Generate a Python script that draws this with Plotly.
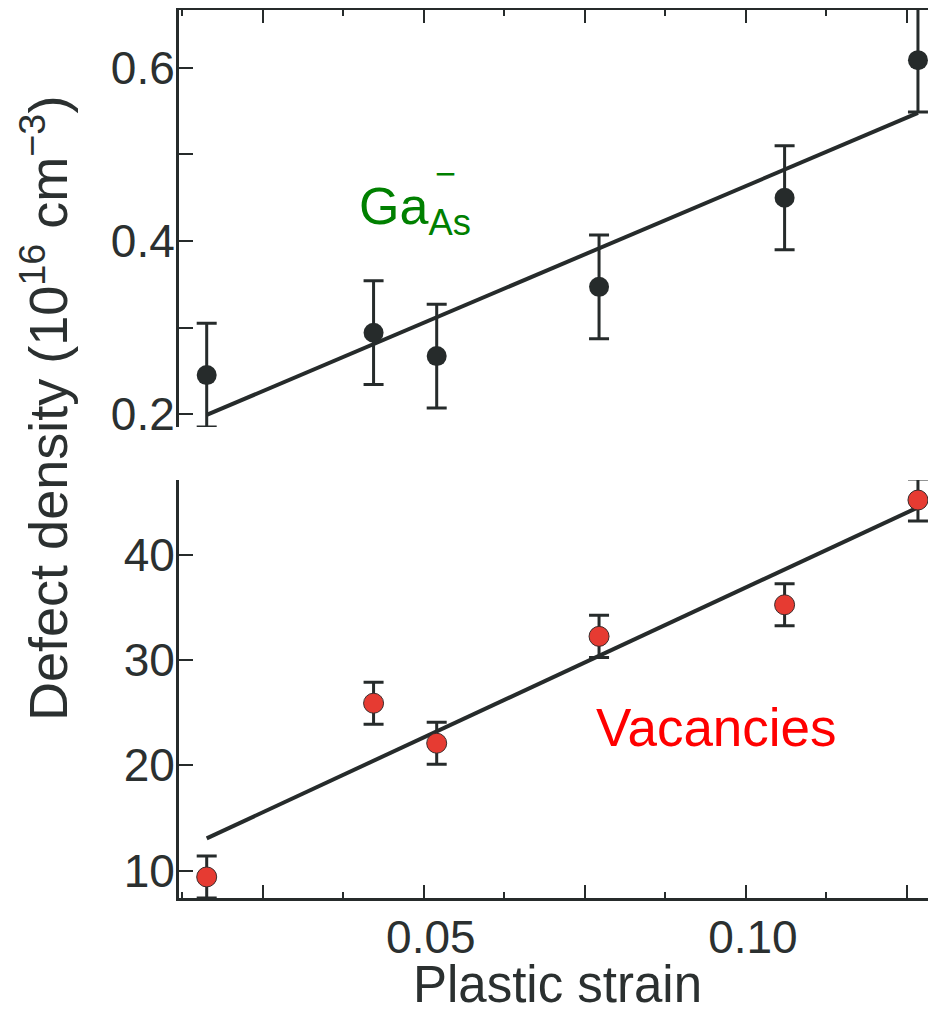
import plotly.graph_objects as go

# ---- data ----
strain = [0.0163, 0.0422, 0.0520, 0.0772, 0.1060, 0.1267]
ga_density = [0.245, 0.294, 0.267, 0.347, 0.450, 0.609]
ga_err = [0.06, 0.06, 0.06, 0.06, 0.06, 0.06]
vac_density = [9.4, 25.9, 22.1, 32.25, 35.25, 45.2]
vac_err = [2.0, 2.0, 2.0, 2.0, 2.0, 2.0]
fit_x = [0.0163, 0.1267]
ga_fit = [0.199, 0.548]
vac_fit = [13.06, 44.5]

x_major = [0.025, 0.05, 0.075, 0.10, 0.125]
x_major_text = ["", "0.05", "", "0.10", ""]
x_minor = [0.0125, 0.0375, 0.0625, 0.0875, 0.1125]
ga_ticks = [0.2, 0.3, 0.4, 0.5, 0.6]
ga_ticktext = ["0.2", "", "0.4", "", "0.6"]
vac_ticks = [10, 20, 30, 40]
vac_ticktext = ["10", "20", "30", "40"]

C = "#262b2b"
FONT = "Liberation Sans, Arial, sans-serif"
XR = [0.012, 0.1295]
YR1 = [0.185, 0.667]
YR2 = [7.4, 47.1]

fig = go.Figure()

fig.add_trace(go.Scatter(x=fit_x, y=ga_fit, mode="lines",
                         line=dict(color=C, width=4), xaxis="x", yaxis="y",
                         showlegend=False))
fig.add_trace(go.Scatter(x=strain, y=ga_density, mode="markers",
                         marker=dict(color=C, size=20),
                         error_y=dict(type="data", array=ga_err, color=C,
                                      thickness=3, width=10),
                         xaxis="x", yaxis="y3", showlegend=False))
fig.add_trace(go.Scatter(x=fit_x, y=vac_fit, mode="lines",
                         line=dict(color=C, width=4), xaxis="x2", yaxis="y2",
                         showlegend=False))
fig.add_trace(go.Scatter(x=strain, y=vac_density, mode="markers",
                         marker=dict(color="#e63b32", size=20,
                                     line=dict(color="#3a2b2b", width=1)),
                         error_y=dict(type="data", array=vac_err, color=C,
                                      thickness=3, width=10),
                         xaxis="x2", yaxis="y4", showlegend=False))

tickfont = dict(family=FONT, size=46, color="#2b3030")
common_x = dict(range=XR, showgrid=False, zeroline=False, showline=True,
                linewidth=3, linecolor=C, ticks="inside", ticklen=13,
                tickwidth=2, tickcolor=C, tickvals=x_major,
                minor=dict(tickvals=x_minor, ticks="inside", ticklen=6,
                           tickwidth=2, tickcolor=C))
common_y = dict(showgrid=False, zeroline=False, showline=True, linewidth=3,
                linecolor=C, ticks="inside", ticklen=14, tickwidth=2,
                tickcolor=C, tickfont=tickfont, ticklabelstandoff=-8)
right_y = dict(side="right", showgrid=False, zeroline=False, showline=False,
               ticks="inside", ticklen=7, tickwidth=2, tickcolor=C,
               showticklabels=False)

top_dom = [0.5304, 1.0]
bot_dom = [0.0, 0.4707]

fig.update_layout(
    width=928, height=1005,
    margin=dict(l=171, r=0, t=2, b=115),
    paper_bgcolor="white", plot_bgcolor="white",
    xaxis=dict(common_x, domain=[0, 1], anchor="y", side="top",
               showticklabels=False),
    yaxis=dict(common_y, domain=top_dom, anchor="x", range=YR1,
               tickvals=ga_ticks, ticktext=ga_ticktext),
    yaxis3=dict(right_y, overlaying="y", anchor="x", range=YR1,
                tickvals=ga_ticks),
    xaxis2=dict(common_x, domain=[0, 1], anchor="y2", side="bottom",
                ticktext=x_major_text, tickfont=tickfont, ticklabelshift=7,
                ticklabelstandoff=-3,
                title=dict(text="Plastic strain",
                           font=dict(family=FONT, size=51, color="#2b3030"),
                           standoff=8)),
    yaxis2=dict(common_y, domain=bot_dom, anchor="x2", range=YR2,
                tickvals=vac_ticks, ticktext=vac_ticktext),
    yaxis4=dict(right_y, overlaying="y2", anchor="x2", range=YR2,
                tickvals=vac_ticks),
    annotations=[
        dict(text="Defect density (10<sup>16</sup> cm<sup>−3</sup>)",
             textangle=-90, xref="paper", yref="paper", x=-0.178, y=0.551,
             xanchor="center", yanchor="middle", showarrow=False,
             font=dict(family=FONT, size=54, color="#2b3030")),
        dict(text="Ga<sub>As</sub>", xref="x", yref="y", x=0.0397, y=0.436,
             xanchor="left", yanchor="middle", showarrow=False,
             font=dict(family=FONT, size=52, color="#008000")),
        dict(text="−", xref="x", yref="y", x=0.0533, y=0.4786,
             xanchor="center", yanchor="middle", showarrow=False,
             font=dict(family=FONT, size=36, color="#008000")),
        dict(text="Vacancies", xref="x2", yref="y2", x=0.0764, y=23.57,
             xanchor="left", yanchor="middle", showarrow=False,
             font=dict(family=FONT, size=53, color="#ff0000")),
    ],
)

fig.write_html("out.html")
